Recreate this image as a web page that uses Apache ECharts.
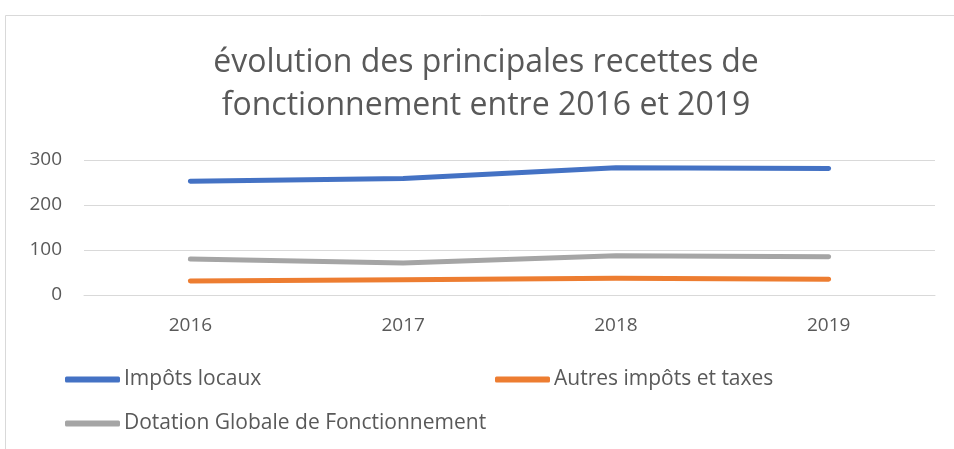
<!DOCTYPE html>
<html lang="fr">
<head>
    <meta charset="UTF-8">
    <title>évolution des principales recettes</title>
    <script src="https://cdn.jsdelivr.net/npm/echarts@6/dist/echarts.min.js"></script>
    <style>
        html, body { margin: 0; padding: 0; background: #fff; }
        #main { width: 954px; height: 449px; }
    </style>
</head>
<body>
    <div id="main"></div>
    <script>
        // données
        var annees = ['2016', '2017', '2018', '2019'];
        var impotsLocaux = [253, 259, 283, 281];
        var autresImpots = [31, 34, 37, 35];
        var dotationGlobale = [80, 71, 87, 85];
        var yTicks = { min: 0, max: 300, interval: 100 };

        var font = '"Open Sans", "Noto Sans", sans-serif';
        var grey = '#595959';

        var myChart = echarts.init(document.getElementById('main'));

        function legendAt(name, left, top) {
            return {
                data: [name],
                left: left,
                top: top,
                padding: 0,
                icon: 'roundRect',
                itemWidth: 55,
                itemHeight: 6,
                itemGap: 0,
                textStyle: { color: grey, fontSize: 21, fontFamily: font, padding: [0, 0, 0, -1] }
            };
        }

        var option = {
            backgroundColor: '#fff',
            animation: false,
            graphic: [{
                type: 'rect',
                shape: { x: 5.5, y: 15.5, width: 1000, height: 500 },
                style: { fill: 'none', stroke: '#d9d9d9', lineWidth: 1 },
                silent: true
            }],
            title: {
                text: 'évolution des principales recettes de\nfonctionnement entre 2016 et 2019',
                left: 486,
                top: 41,
                padding: 0,
                textAlign: 'center',
                textStyle: {
                    color: grey,
                    fontSize: 32,
                    fontWeight: 'normal',
                    fontFamily: font,
                    lineHeight: 43
                }
            },
            legend: [
                legendAt('Impôts locaux', 65, 369),
                legendAt('Autres impôts et taxes', 495, 369),
                legendAt('Dotation Globale de Fonctionnement', 65, 413)
            ],
            grid: {
                left: 84,
                right: 19,
                top: 160,
                height: 135
            },
            xAxis: {
                type: 'category',
                boundaryGap: true,
                data: annees,
                axisTick: { show: false },
                axisLine: { lineStyle: { color: '#d9d9d9' } },
                axisLabel: { color: grey, fontSize: 19, fontFamily: font, margin: 21 }
            },
            yAxis: {
                type: 'value',
                min: yTicks.min,
                max: yTicks.max,
                interval: yTicks.interval,
                axisLine: { show: false },
                axisTick: { show: false },
                axisLabel: { color: grey, fontSize: 19, fontFamily: font, margin: 22 },
                splitLine: { lineStyle: { color: '#d9d9d9', width: 1 } }
            },
            series: [
                {
                    name: 'Impôts locaux',
                    type: 'line',
                    data: impotsLocaux,
                    color: '#4472C4',
                    symbol: 'none',
                    lineStyle: { width: 5, cap: 'round', join: 'round' }
                },
                {
                    name: 'Autres impôts et taxes',
                    type: 'line',
                    data: autresImpots,
                    color: '#ED7D31',
                    symbol: 'none',
                    lineStyle: { width: 5, cap: 'round', join: 'round' }
                },
                {
                    name: 'Dotation Globale de Fonctionnement',
                    type: 'line',
                    data: dotationGlobale,
                    color: '#A5A5A5',
                    symbol: 'none',
                    lineStyle: { width: 5, cap: 'round', join: 'round' }
                }
            ]
        };

        myChart.setOption(option);
        window.addEventListener('resize', function () {
            myChart.resize();
        });
    </script>
</body>
</html>
